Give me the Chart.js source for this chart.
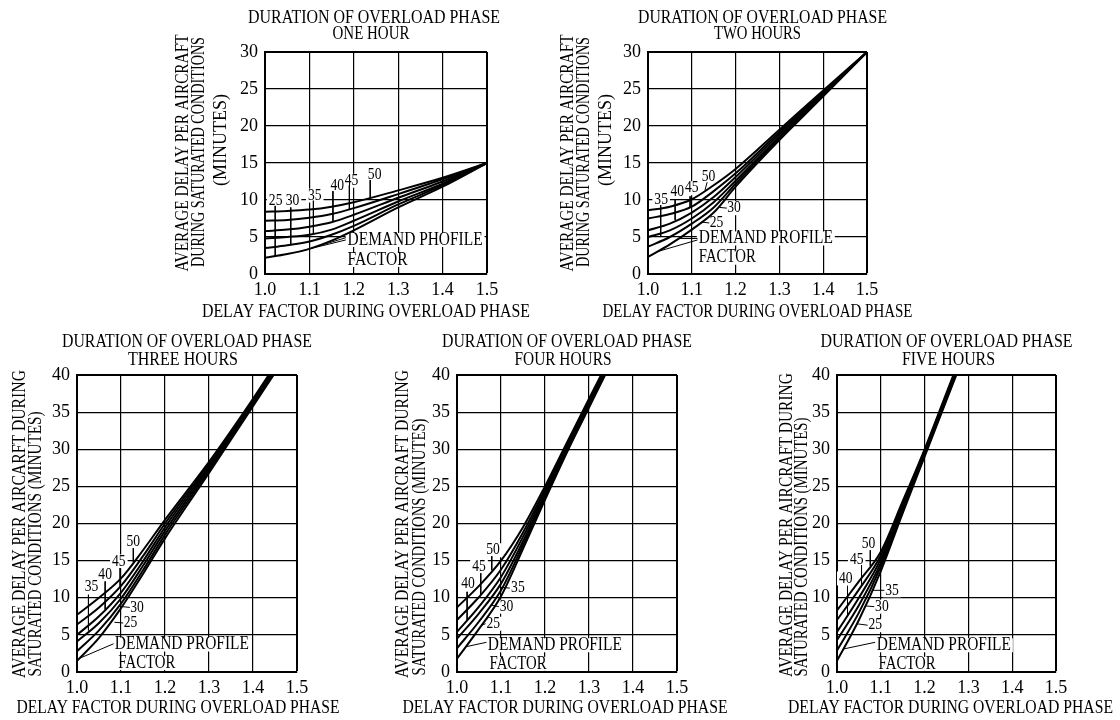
<!DOCTYPE html>
<html>
<head>
<meta charset="utf-8">
<title>Average delay per aircraft during saturated conditions</title>
<script src="https://cdn.jsdelivr.net/npm/chart.js@4.4.1/dist/chart.umd.min.js"></script>
<style>
  html, body { margin: 0; padding: 0; background: #fff; overflow: hidden; }
  #wrap { position: relative; width: 1120px; height: 720px; }
  canvas { position: absolute; }
</style>
</head>
<body>
<div id="wrap">
  <canvas id="oneHour"></canvas>
  <canvas id="twoHours"></canvas>
  <canvas id="threeHours"></canvas>
  <canvas id="fourHours"></canvas>
  <canvas id="fiveHours"></canvas>
</div>
<script>
// demand profile factors, bottom curve to top curve
const factors = [25, 30, 35, 40, 45, 50];

// one hour overload
const xOneHour = [1.0, 1.05, 1.1, 1.15, 1.2, 1.3, 1.4, 1.5];
const delayOneHour = [
  [2.2, 2.7, 3.4, 4.5, 5.9, 9.0, 11.8, 15],
  [3.5, 3.9, 4.4, 5.3, 6.5, 9.4, 12.0, 15],
  [4.8, 5.0, 5.3, 6.0, 7.2, 9.8, 12.2, 15],
  [5.8, 6.0, 6.4, 7.0, 8.0, 10.3, 12.5, 15],
  [7.2, 7.3, 7.6, 8.1, 8.9, 10.8, 12.8, 15],
  [8.4, 8.5, 8.7, 9.1, 9.7, 11.3, 13.0, 15]
];

// two hours overload
const xTwoHours = [1.0, 1.05, 1.1, 1.15, 1.2, 1.3, 1.4, 1.5];
const delayTwoHours = [
  [2.3, 4.0, 6.0, 8.3, 11.8, 18.1, 24.0, 30],
  [3.7, 5.0, 6.8, 9.0, 12.2, 18.4, 24.1, 30],
  [5.0, 5.9, 7.5, 9.7, 12.6, 18.6, 24.3, 30],
  [5.9, 6.8, 8.3, 10.4, 13.1, 18.9, 24.4, 30],
  [7.5, 8.1, 9.1, 11.2, 13.6, 19.2, 24.6, 30],
  [8.6, 9.1, 10.1, 12.0, 14.2, 19.5, 24.8, 30]
];

// three hours overload
const xThreeHours = [1.0, 1.05, 1.1, 1.15, 1.2, 1.3, 1.4, 1.45];
const delayThreeHours = [
  [1.5, 4.6, 8.6, 13.2, 18.0, 26.8, 35.8, 40.3],
  [2.8, 5.6, 9.2, 13.7, 18.5, 27.1, 36.0, 40.5],
  [4.1, 6.6, 9.9, 14.3, 19.0, 27.4, 36.2, 40.7],
  [5.0, 7.5, 10.7, 14.9, 19.5, 27.7, 36.4, 40.9],
  [6.4, 8.7, 11.6, 15.6, 20.0, 28.0, 36.6, 41.1],
  [7.7, 10.0, 12.6, 16.4, 20.5, 28.3, 36.8, 41.3]
];

// four hours overload
const xFourHours = [1.0, 1.05, 1.1, 1.15, 1.2, 1.25, 1.3, 1.35];
const delayFourHours = [
  [1.8, 5.8, 10.2, 16.6, 23.2, 29.6, 35.6, 41.6],
  [3.2, 6.8, 11.0, 17.1, 23.5, 29.8, 35.8, 41.8],
  [4.5, 7.9, 11.9, 17.6, 23.8, 30.0, 36.0, 42.0],
  [5.4, 8.8, 12.8, 18.2, 24.2, 30.3, 36.3, 42.2],
  [7.0, 10.1, 13.8, 18.8, 24.6, 30.6, 36.5, 42.4],
  [8.7, 11.6, 15.0, 19.5, 25.0, 30.9, 36.8, 42.6]
];

// five hours overload
const xFiveHours = [1.0, 1.05, 1.1, 1.15, 1.2, 1.25, 1.3];
const delayFiveHours = [
  [1.5, 7.0, 13.6, 21.4, 29.0, 36.6, 44.2],
  [2.9, 8.0, 14.2, 21.8, 29.2, 36.8, 44.4],
  [4.3, 9.0, 14.7, 22.1, 29.4, 37.0, 44.6],
  [5.4, 10.0, 15.2, 22.4, 29.6, 37.2, 44.8],
  [7.0, 11.1, 15.7, 22.7, 29.8, 37.4, 45.0],
  [8.3, 12.2, 16.2, 23.0, 30.0, 37.6, 45.2]
];

// curve tags [text, x, y, align, maxWidth] and leader strokes [x1, y1, x2, y2]
const tagsOneHour = [
  ['25', 1.024, 9.9, 'center'], ['30', 1.062, 9.9, 'center'], ['35', 1.112, 10.6, 'center'],
  ['40', 1.163, 11.9, 'center'], ['45', 1.195, 12.6, 'center'], ['50', 1.247, 13.4, 'center'],
  ['DEMAND PHOFILE', 1.186, 4.6, 'left', 135], ['FACTOR', 1.186, 1.9, 'left', 60]
];
const leadsOneHour = [
  [1.023, 9.2, 1.023, 2.4], [1.058, 9.0, 1.058, 3.9], [1.109, 9.9, 1.109, 5.4],
  [1.153, 11.2, 1.153, 7.1], [1.19, 12.0, 1.19, 8.8], [1.237, 12.7, 1.237, 10.2],
  [1.182, 4.9, 1.1, 3.4], [1.182, 4.6, 1.08, 3.1]
];

const tagsTwoHours = [
  ['35', 1.03, 10.0, 'center'], ['40', 1.067, 11.1, 'center'], ['45', 1.1, 11.6, 'center'],
  ['50', 1.138, 13.2, 'center'], ['30', 1.181, 8.9, 'left'], ['25', 1.141, 6.9, 'left'],
  ['DEMAND PROFILE', 1.116, 4.8, 'left', 134], ['FACTOR', 1.116, 2.2, 'left', 57]
];
const leadsTwoHours = [
  [1.029, 9.3, 1.029, 5.0], [1.062, 10.1, 1.062, 7.3], [1.096, 10.5, 1.096, 9.0],
  [1.135, 12.4, 1.13, 11.3], [1.163, 9.0, 1.18, 8.9], [1.123, 7.0, 1.14, 6.9],
  [1.07, 4.8, 1.113, 4.8], [1.113, 4.6, 1.02, 3.0]
];

const tagsThreeHours = [
  ['35', 1.033, 11.5, 'center'], ['40', 1.064, 13.1, 'center'], ['45', 1.095, 14.9, 'center'],
  ['50', 1.128, 17.6, 'center'], ['30', 1.121, 8.7, 'left'], ['25', 1.106, 6.6, 'left'],
  ['DEMAND PROFILE', 1.086, 3.7, 'left', 134], ['FACTOR', 1.094, 1.2, 'left', 57]
];
const leadsThreeHours = [
  [1.026, 10.4, 1.026, 5.6], [1.064, 12.2, 1.064, 8.4], [1.098, 14.0, 1.098, 11.5],
  [1.128, 16.7, 1.128, 14.8], [1.103, 8.8, 1.12, 8.7], [1.085, 6.7, 1.105, 6.6],
  [1.083, 3.8, 1.008, 1.9]
];

const tagsFourHours = [
  ['40', 1.025, 11.9, 'center'], ['45', 1.05, 14.2, 'center'], ['50', 1.082, 16.4, 'center'],
  ['35', 1.123, 11.3, 'left'], ['30', 1.097, 8.8, 'left'], ['25', 1.067, 6.5, 'left'],
  ['DEMAND PROFILE', 1.07, 3.6, 'left', 134], ['FACTOR', 1.074, 1.1, 'left', 57]
];
const leadsFourHours = [
  [1.023, 10.8, 1.023, 7.0], [1.054, 13.3, 1.054, 10.4], [1.079, 15.6, 1.079, 13.7],
  [1.1, 11.4, 1.12, 11.3], [1.078, 9.0, 1.095, 8.8], [1.055, 6.3, 1.065, 6.5],
  [1.067, 4.0, 1.02, 3.4]
];

const tagsFiveHours = [
  ['50', 1.072, 17.3, 'center'], ['45', 1.045, 15.1, 'center'], ['40', 1.02, 12.6, 'center'],
  ['35', 1.11, 11.0, 'left'], ['30', 1.087, 8.8, 'left'], ['25', 1.072, 6.3, 'left'],
  ['DEMAND PROFILE', 1.091, 3.6, 'left', 134], ['FACTOR', 1.095, 1.1, 'left', 57]
];
const leadsFiveHours = [
  [1.076, 16.4, 1.076, 14.3], [1.056, 14.4, 1.056, 11.6], [1.024, 11.6, 1.024, 7.6],
  [1.08, 11.0, 1.108, 11.0], [1.065, 8.9, 1.085, 8.8], [1.045, 6.5, 1.07, 6.3],
  [1.087, 4.0, 1.015, 3.1]
];

const SERIF = "'Liberation Serif', 'DejaVu Serif', serif";
Chart.defaults.font.family = SERIF;
Chart.defaults.color = '#000';

// the original lettering is a narrow face, so text is squeezed with maxWidth
function squeezed(ctx, text, x, y, size, maxW) {
  ctx.font = size + 'px ' + SERIF;
  const w = ctx.measureText(text).width;
  ctx.fillText(text, x, y, maxW ? Math.min(w, maxW) : w * 0.85);
}

const panelText = {
  id: 'panelText',
  beforeDatasetsDraw(chart, args, opts) {
    // white patches under the curve tags hide the grid, as on the original
    const { ctx, scales: { x, y } } = chart;
    ctx.save();
    ctx.fillStyle = '#fff';
    (opts.tags || []).forEach(t => {
      const size = t[4] ? 18 : 16;
      ctx.font = size + 'px ' + SERIF;
      const w = t[4] ? Math.min(ctx.measureText(t[0]).width, t[4]) : ctx.measureText(t[0]).width * 0.85;
      let px = x.getPixelForValue(t[1]);
      if (t[3] === 'center') px -= w / 2;
      ctx.fillRect(px - 2, y.getPixelForValue(t[2]) - 7, w + 4, 14);
    });
    ctx.restore();
  },
  afterDatasetsDraw(chart, args, opts) {
    const { ctx, chartArea: a, scales: { x, y } } = chart;
    const cx = (a.left + a.right) / 2;
    ctx.save();
    ctx.fillStyle = '#000';
    ctx.textBaseline = 'middle';
    (opts.tags || []).forEach(t => {
      ctx.textAlign = t[3];
      squeezed(ctx, t[0], x.getPixelForValue(t[1]), y.getPixelForValue(t[2]), t[4] ? 18 : 16, t[4]);
    });
    ctx.textAlign = 'center';
    opts.title.forEach(l => squeezed(ctx, l[0], cx + l[1], a.top + l[2], 18, l[3]));
    const xt = opts.xTitle;
    squeezed(ctx, xt[0], cx + xt[1], a.bottom + xt[2], 18, xt[3]);
    opts.yTitle.forEach(l => {
      ctx.save();
      ctx.translate(a.left + l[1], a.top + l[2]);
      ctx.rotate(-Math.PI / 2);
      squeezed(ctx, l[0], 0, 0, 18, l[3]);
      ctx.restore();
    });
    ctx.restore();
  }
};

function isEdge(c, max) {
  return c.tick && Math.abs(c.tick.value - max) < 1e-6;
}

function drawPanel(id, box, text, yMax, xs, delays, tags, leads) {
  const cv = document.getElementById(id);
  cv.width = box.w;
  cv.height = box.h;
  cv.style.left = box.left + 'px';
  cv.style.top = box.top + 'px';

  const datasets = delays.map((row, i) => ({
    label: 'Demand profile factor ' + factors[i],
    data: row.map((v, j) => ({ x: xs[j], y: v })),
    borderColor: '#000',
    borderWidth: 2,
    pointRadius: 0,
    cubicInterpolationMode: 'monotone',
    clip: 0
  }));
  leads.forEach(l => datasets.push({
    label: 'leader',
    data: [{ x: l[0], y: l[1] }, { x: l[2], y: l[3] }],
    borderColor: '#000',
    borderWidth: 1,
    pointRadius: 0,
    clip: 0
  }));

  new Chart(cv, {
    type: 'line',
    data: { datasets: datasets },
    plugins: [panelText],
    options: {
      responsive: false,
      animation: false,
      layout: { padding: { left: 0, right: box.pr, top: 52, bottom: 0 } },
      plugins: {
        legend: { display: false },
        tooltip: { enabled: false },
        panelText: { tags: tags, title: text.title, xTitle: text.xTitle, yTitle: text.yTitle }
      },
      scales: {
        x: {
          type: 'linear',
          min: 1.0,
          max: 1.5,
          afterFit: s => { s.height = box.xh; },
          ticks: {
            stepSize: 0.1,
            autoSkip: false,
            maxRotation: 0,
            padding: 5,
            font: { size: 18 },
            callback: v => v.toFixed(1)
          },
          grid: { color: '#000', lineWidth: c => isEdge(c, 1.5) ? 2 : 1.2, drawTicks: false },
          border: { color: '#000', width: 2 }
        },
        y: {
          min: 0,
          max: yMax,
          afterFit: s => { s.width = box.yw; },
          ticks: { stepSize: 5, padding: 7, font: { size: 18 } },
          grid: { color: '#000', lineWidth: c => isEdge(c, yMax) ? 2 : 1.2, drawTicks: false },
          border: { color: '#000', width: 2 }
        }
      }
    }
  });
}

const HEAD = 'DURATION OF OVERLOAD PHASE';
const XT = 'DELAY FACTOR DURING OVERLOAD PHASE';

drawPanel('oneHour', { left: 165, top: 0, w: 372, h: 324, yw: 100, xh: 50, pr: 50 }, {
  title: [[HEAD, -2, -34, 252], ['ONE HOUR', -5, -18, 77]],
  xTitle: [XT, -10, 38, 328],
  yTitle: [['AVERAGE DELAY PER AIRCRAFT', -82, 101, 237], ['DURING SATURATED CONDITIONS', -66, 100, 230], ['(MINUTES)', -44, 88, 94]]
}, 30, xOneHour, delayOneHour, tagsOneHour, leadsOneHour);

drawPanel('twoHours', { left: 548, top: 0, w: 369, h: 324, yw: 100, xh: 50, pr: 50 }, {
  title: [[HEAD, 5, -34, 249], ['TWO HOURS', 0, -18, 87]],
  xTitle: [XT, 0, 38, 310],
  yTitle: [['AVERAGE DELAY PER AIRCRAFT', -80, 101, 237], ['DURING SATURATED CONDITIONS', -64, 100, 230], ['(MINUTES)', -42, 88, 94]]
}, 30, xTwoHours, delayTwoHours, tagsTwoHours, leadsTwoHours);

drawPanel('threeHours', { left: 0, top: 323, w: 347, h: 395, yw: 77, xh: 46, pr: 50 }, {
  title: [[HEAD, 0, -33, 250], ['THREE HOURS', -4, -15, 110]],
  xTitle: [XT, -9, 36, 323],
  yTitle: [['AVERAGE DELAY PER AIRCARFT DURING', -57, 149, 308], ['SATURATED CONDITIONS (MINUTES)', -41, 169, 265]]
}, 40, xThreeHours, delayThreeHours, tagsThreeHours, leadsThreeHours);

drawPanel('fourHours', { left: 357, top: 323, w: 375, h: 395, yw: 100, xh: 46, pr: 55 }, {
  title: [[HEAD, 0, -33, 250], ['FOUR HOURS', -4, -15, 97]],
  xTitle: [XT, -2, 36, 325],
  yTitle: [['AVERAGE DELAY PER AIRCRAFT DURING', -54, 149, 308], ['SATURATED CONDITIONS (MINUTES)', -37, 172, 257]]
}, 40, xFourHours, delayFourHours, tagsFourHours, leadsFourHours);

drawPanel('fiveHours', { left: 737, top: 323, w: 379, h: 395, yw: 100, xh: 46, pr: 60 }, {
  title: [[HEAD, 0, -33, 252], ['FIVE HOURS', 2, -15, 93]],
  xTitle: [XT, 4, 36, 325],
  yTitle: [['AVERAGE DELAY PER AIRCRAFT DURING', -50, 150, 304], ['SATURATED CONDITIONS (MINUTES)', -35, 172, 259]]
}, 40, xFiveHours, delayFiveHours, tagsFiveHours, leadsFiveHours);
</script>
</body>
</html>
